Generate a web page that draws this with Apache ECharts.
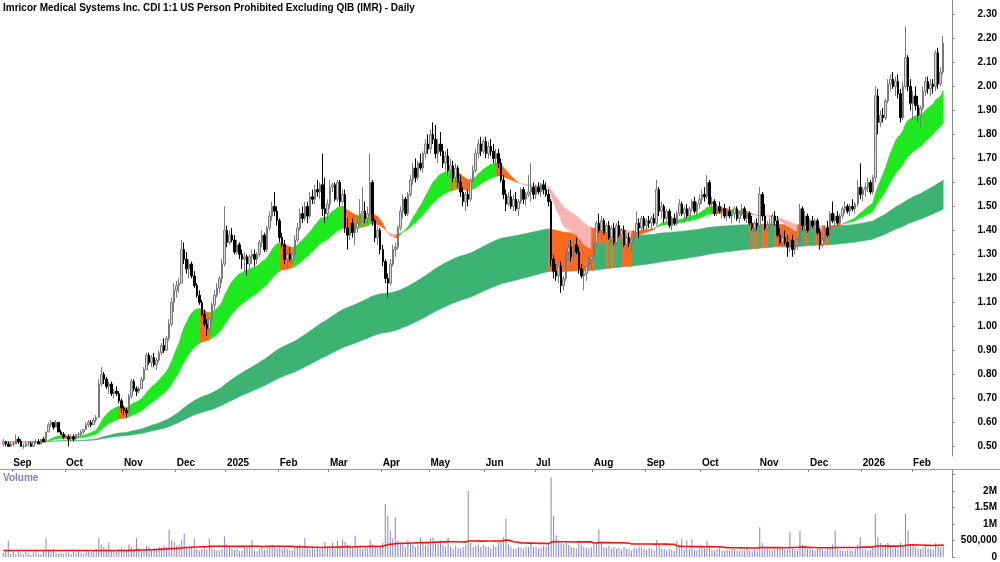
<!DOCTYPE html>
<html><head><meta charset="utf-8">
<script src="https://cdn.jsdelivr.net/npm/echarts@6/dist/echarts.min.js"></script>
<style>html,body{margin:0;padding:0;background:#fff}#c{width:1000px;height:562px}</style>
</head><body><div id="c"></div><script>
// Month labels shown at the first trading day of each month ('' = no label)
const monthLabels = ['', 'Sep','Oct','Nov','Dec','2025','Feb','Mar','Apr','May','Jun','Jul','Aug','Sep','Oct','Nov','Dec','2026','Feb'];

// Daily candles [open, high, low, close] in cents
const ohlc_2024_08 = [[51,53,50,52],[52,52,50,51],[51,52,50,50],[50,52,50,51]];
const ohlc_2024_09 = [[51,52,50,51],[51,55,51,53],[53,54,51,52],[52,53,50,50],[50,51,49,50],[50,52,50,51],[51,52,50,51],[51,52,50,50],[50,52,50,52],[52,53,51,52],[52,53,51,51],[51,53,51,53],[53,54,52,52],[52,56,52,56],[56,60,56,59],[59,61,58,60],[60,60,57,58],[58,61,58,60],[60,60,56,56],[56,57,55,55],[55,56,53,54]];
const ohlc_2024_10 = [[54,55,53,54],[54,55,50,53],[53,55,52,54],[54,55,52,53],[53,55,53,55],[55,56,54,55],[55,57,54,56],[56,57,55,57],[57,60,57,59],[59,61,58,60],[60,61,58,59],[59,62,59,61],[61,63,60,62],[62,78,62,76],[76,83,75,80],[80,81,76,78],[78,79,74,75],[75,77,72,76],[76,77,71,72],[72,74,70,73],[73,75,71,72],[72,73,68,69],[69,70,64,66]];
const ohlc_2024_11 = [[66,67,63,65],[65,66,62,64],[64,72,64,71],[71,78,70,77],[77,78,73,74],[74,75,71,73],[73,75,72,74],[74,79,74,78],[78,83,77,82],[82,89,82,88],[88,89,84,85],[85,88,83,87],[87,89,83,84],[84,87,82,86],[86,90,85,89],[89,93,88,92],[92,95,89,90],[90,96,90,95],[95,103,94,101],[101,112,100,110],[110,118,106,115]];
const ohlc_2024_12 = [[115,119,112,117],[117,120,114,118],[118,136,118,132],[132,135,126,128],[128,131,122,124],[124,128,120,126],[126,127,120,121],[121,123,116,117],[117,118,112,113],[113,115,109,110],[110,111,104,105],[105,107,100,101],[101,103,96,99],[99,104,97,103],[103,110,102,109],[109,115,107,113],[113,118,112,116],[116,121,114,120],[120,128,118,126],[126,150,125,140]];
const ohlc_2025_01 = [[140,142,133,135],[135,140,134,138],[138,141,135,136],[136,138,130,131],[131,136,130,134],[134,135,128,130],[130,132,124,128],[128,131,123,129],[129,130,121,126],[126,130,124,129],[129,132,126,130],[130,132,125,128],[128,131,126,130],[130,136,129,135],[135,140,133,138],[138,139,131,132],[132,142,131,141],[141,148,140,146],[146,152,144,150],[150,156,146,148],[148,150,142,144]];
const ohlc_2025_02 = [[144,145,135,137],[137,139,133,134],[134,136,126,128],[128,132,124,130],[130,133,127,128],[128,131,126,130],[130,138,129,136],[136,143,135,141],[141,149,140,147],[147,150,143,145],[145,152,144,150],[150,152,143,146],[146,156,145,154],[154,157,151,153],[153,159,151,157],[157,161,154,156],[156,160,153,159],[159,172,146,149],[149,162,143,147],[147,153,144,151]];
const ohlc_2025_03 = [[151,161,149,158],[158,160,156,159],[159,160,152,153],[153,161,152,160],[160,161,150,152],[152,157,151,155],[155,157,139,141],[141,145,132,138],[138,144,136,143],[143,145,137,139],[139,142,134,141],[141,146,139,143],[143,153,142,147],[147,158,146,148],[148,152,143,145],[145,150,143,147],[147,172,146,160],[160,161,142,144],[144,145,135,137],[137,142,134,140],[140,141,130,132]];
const ohlc_2025_04 = [[132,134,125,127],[127,128,118,120],[120,122,112,118],[118,128,117,126],[126,134,125,132],[132,135,129,133],[133,142,132,141],[141,150,140,148],[148,155,145,153],[153,154,146,147],[147,156,146,155],[155,163,154,161],[161,168,159,166],[166,170,160,162],[162,169,161,168],[168,172,165,166],[166,173,164,172],[172,178,170,176],[176,180,172,174]];
const ohlc_2025_05 = [[174,182,172,180],[180,185,176,178],[178,184,170,172],[172,178,168,176],[176,181,171,173],[173,176,166,168],[168,173,165,171],[171,174,163,165],[165,170,162,167],[167,169,160,162],[162,168,160,166],[166,167,158,160],[160,163,154,156],[156,158,150,152],[152,156,148,155],[155,157,150,153],[153,162,152,161],[161,167,160,165],[165,174,164,172],[172,178,170,176],[176,179,171,173],[173,178,172,177]];
const ohlc_2025_06 = [[177,179,170,172],[172,177,170,175],[175,178,171,173],[173,176,168,170],[170,174,167,172],[172,174,166,168],[168,170,160,161],[161,163,153,155],[155,157,148,151],[151,156,150,154],[154,157,149,150],[150,155,148,153],[153,156,148,149],[149,153,146,152],[152,158,151,157],[157,158,151,153],[153,156,150,155],[155,163,154,156],[156,168,152,158],[158,160,153,155]];
const ohlc_2025_07 = [[155,159,153,158],[158,160,155,156],[156,160,154,159],[159,161,155,157],[157,160,154,155],[155,157,150,152],[152,153,125,128],[128,130,120,123],[123,126,119,121],[121,126,118,125],[125,127,114,117],[117,121,115,120],[120,132,119,131],[131,136,128,133],[133,136,127,129],[129,135,128,134],[134,137,130,131],[131,133,122,124],[124,126,120,121],[121,124,115,122],[122,126,119,125],[125,129,123,128],[128,130,124,129]];
const ohlc_2025_08 = [[129,136,128,135],[135,144,133,143],[143,147,139,140],[140,146,138,144],[144,145,138,139],[139,143,137,142],[142,144,136,137],[137,142,135,141],[141,143,134,135],[135,143,134,142],[142,144,137,138],[138,141,134,140],[140,142,133,134],[134,138,132,137],[137,139,133,135],[135,138,131,136],[136,140,134,139],[139,148,138,143],[143,145,137,141],[141,146,140,145],[145,146,140,142]];
const ohlc_2025_09 = [[142,145,140,144],[144,146,141,143],[143,146,140,145],[145,147,142,143],[143,161,142,157],[157,158,146,148],[148,152,145,150],[150,151,143,145],[145,149,144,148],[148,149,141,142],[142,146,140,145],[145,147,142,143],[143,148,142,147],[147,153,146,151],[151,152,146,147],[147,150,143,149],[149,151,145,146],[146,150,144,149],[149,153,148,152],[152,154,147,148],[148,152,146,151],[151,155,149,153]];
const ohlc_2025_10 = [[153,157,151,155],[155,158,152,154],[154,163,153,160],[160,161,150,151],[151,154,148,152],[152,153,146,147],[147,151,146,150],[150,152,147,148],[148,150,145,149],[149,151,145,146],[146,149,144,148],[148,150,145,146],[146,148,143,147],[147,150,145,149],[149,150,144,145],[145,148,143,147],[147,151,146,149],[149,150,144,145],[145,148,143,147],[147,148,142,143],[143,146,140,141],[141,144,139,143],[143,145,140,142]];
const ohlc_2025_11 = [[142,158,141,155],[155,156,144,146],[146,151,140,141],[141,144,139,142],[142,145,140,143],[143,147,142,146],[146,148,142,144],[144,146,137,138],[138,141,134,135],[135,139,133,137],[137,140,134,135],[135,138,129,133],[133,137,131,136],[136,138,129,132],[132,136,130,134],[134,137,132,135],[135,151,134,149],[149,150,140,142],[142,148,140,146],[146,147,139,140]];
const ohlc_2025_12 = [[140,145,139,144],[144,146,141,142],[142,145,141,144],[144,145,138,139],[139,141,132,134],[134,137,133,136],[136,142,135,141],[141,144,137,138],[138,148,137,147],[147,152,143,144],[144,147,141,146],[146,148,142,143],[143,147,142,146],[146,150,145,149],[149,152,147,150],[150,151,147,148],[148,151,146,150],[150,153,148,149],[149,152,147,151],[151,161,150,158],[158,168,153,155]];
const ohlc_2026_01 = [[155,158,152,157],[157,160,154,158],[158,162,156,160],[160,161,155,156],[156,163,155,162],[162,200,160,196],[196,199,180,185],[185,190,183,188],[188,191,185,187],[187,195,186,194],[194,203,193,201],[201,205,198,203],[203,206,199,200],[200,204,196,202],[202,205,195,197],[197,199,185,187],[187,202,186,200],[200,225,199,212],[212,213,198,200],[200,203,190,193]];
const ohlc_2026_02 = [[193,198,186,196],[196,200,190,192],[192,196,185,188],[188,192,183,191],[191,200,190,198],[198,204,196,202],[202,204,197,199],[199,203,196,201],[201,203,197,200],[200,215,198,214],[214,216,199,201],[201,208,200,206],[206,221,205,218]];

// Daily volume in thousands of shares
const vol_2024_08 = [120,180,500,90];
const vol_2024_09 = [150,90,200,130,80,160,110,70,140,180,100,90,210,560,230,180,250,130,90,120,100];
const vol_2024_10 = [140,120,90,160,110,180,130,100,220,170,150,190,240,580,380,300,260,440,210,180,160,240,280];
const vol_2024_11 = [250,200,380,300,240,570,260,180,220,340,310,200,260,220,300,280,350,300,820,520,460];
const vol_2024_12 = [330,380,520,700,300,260,280,560,250,200,240,300,220,550,260,230,200,180,240,620];
const vol_2025_01 = [380,300,260,220,240,180,200,300,320,280,520,200,180,260,300,220,280,320,360,300,260];
const vol_2025_02 = [280,240,320,260,220,200,300,340,380,260,580,300,240,320,260,280,240,260,450,320];
const vol_2025_03 = [300,420,260,480,300,520,450,360,300,280,640,300,260,240,300,280,520,380,300,260,340];
const vol_2025_04 = [420,1600,1250,800,560,1200,500,420,380,300,520,440,380,300,360,600,420,340,480];
const vol_2025_05 = [560,600,420,380,500,360,320,580,300,260,340,280,260,300,360,2000,420,300,340,380,300,360];
const vol_2025_06 = [320,300,260,380,300,440,520,600,1150,380,300,260,240,300,280,260,320,300,440,300];
const vol_2025_07 = [300,260,280,340,300,400,2400,1250,650,500,420,380,450,360,300,280,260,420,360,300,280,260,300];
const vol_2025_08 = [380,420,830,460,300,280,340,260,300,240,280,220,300,260,240,200,280,260,320,300,240];
const vol_2025_09 = [220,280,240,200,520,360,260,240,200,260,220,180,480,300,560,220,500,260,540,220,200,260];
const vol_2025_10 = [300,260,480,300,220,200,240,260,200,180,220,200,260,240,200,180,220,200,240,200,180,220,200];
const vol_2025_11 = [900,420,300,260,220,200,240,260,300,280,240,220,750,260,240,200,800,360,280,240];
const vol_2025_12 = [260,220,200,240,280,220,200,240,300,380,800,260,220,200,180,220,200,180,240,380,600];
const vol_2026_01 = [260,240,200,220,300,1300,600,420,360,380,420,300,260,280,240,420,300,1300,800,380];
const vol_2026_02 = [360,300,260,240,280,320,260,240,220,420,380,300,400];

const ohlcMonths = [ohlc_2024_08,ohlc_2024_09,ohlc_2024_10,ohlc_2024_11,ohlc_2024_12,ohlc_2025_01,ohlc_2025_02,ohlc_2025_03,ohlc_2025_04,ohlc_2025_05,ohlc_2025_06,ohlc_2025_07,ohlc_2025_08,ohlc_2025_09,ohlc_2025_10,ohlc_2025_11,ohlc_2025_12,ohlc_2026_01,ohlc_2026_02];
const volMonths = [vol_2024_08,vol_2024_09,vol_2024_10,vol_2024_11,vol_2024_12,vol_2025_01,vol_2025_02,vol_2025_03,vol_2025_04,vol_2025_05,vol_2025_06,vol_2025_07,vol_2025_08,vol_2025_09,vol_2025_10,vol_2025_11,vol_2025_12,vol_2026_01,vol_2026_02];

// Indicator periods
const shortFast = 21, shortSlow = 45, longFast = 150, longSlow = 250, volAvgLen = 50;

// ---------- build ----------
const PAD = 3;
const cats = [], labelAt = {};
let k = 0;
ohlcMonths.forEach((m, mi) => { m.forEach((d, di) => { if (di === 0 && monthLabels[mi]) labelAt[k] = monthLabels[mi]; cats.push(String(k)); k++; }); });
for (let p = 0; p < PAD; p++) { cats.push(String(k)); k++; }
const allOhlc = [].concat(...ohlcMonths);
const allVol = [].concat(...volMonths).map(v => v * 1000);
const candleData = allOhlc.map(d => [d[0] / 100, d[3] / 100, d[2] / 100, d[1] / 100]);
const closes = allOhlc.map(d => d[3] / 100);

function ema(src, n) { const a = 2 / (n + 1); let e = src[0]; return src.map((v, i) => (e = i === 0 ? v : e + a * (v - e))); }
const sF = ema(closes, shortFast), sS = ema(closes, shortSlow), lF = ema(closes, longFast), lS = ema(closes, longSlow);
const firstWin = allVol.slice(0, volAvgLen).reduce((a, b) => a + b, 0) / Math.min(volAvgLen, allVol.length);
const volMA = allVol.map((v, i) => { if (i < volAvgLen - 1) return firstWin; let sum = 0; for (let j = i - volAvgLen + 1; j <= i; j++) sum += allVol[j]; return sum / volAvgLen; });

const shortColors = ['#1ee81e', '#fd6a1f', '#f8b3b3'];
const longColors = ['#3db373', '#fd6a1f'];
const shortState = closes.map((c, i) => sF[i] >= sS[i] ? (c >= sF[i] ? 0 : 1) : (c > sF[i] ? 1 : 2));
const longState = closes.map((c, i) => (c >= Math.max(lF[i], lS[i]) ? 0 : 1));

const sTop = sF.map((v, i) => Math.max(v, sS[i])), sBot = sF.map((v, i) => Math.min(v, sS[i]));
const lTop = lF.map((v, i) => Math.max(v, lS[i])), lBot = lF.map((v, i) => Math.min(v, lS[i]));

// one polygon per run of equal colour state
function runsOf(states) {
  const r = []; let s = 0;
  for (let i = 1; i <= states.length; i++) if (i === states.length || states[i] !== states[s]) { r.push([s, i - 1, states[s]]); s = i; }
  return r;
}
function band(top, bot, states, colors, z) {
  return {
    type: 'custom', xAxisIndex: 0, yAxisIndex: 0, z, silent: true, clip: true, data: runsOf(states),
    encode: { x: [0, 1] },
    renderItem(params, api) {
      const s = api.value(0), e = api.value(1), c = colors[api.value(2)];
      const a = Math.max(s - 1, 0);
      const pts = [];
      for (let j = a; j <= e; j++) pts.push(api.coord([j, top[j]]));
      for (let j = e; j >= a; j--) pts.push(api.coord([j, bot[j]]));
      return { type: 'polygon', shape: { points: pts }, style: { fill: c, stroke: c, lineWidth: 0.5 } };
    }
  };
}

const FONT = '"Liberation Sans", Arial, sans-serif';
const isLabel = (idx) => labelAt[idx] !== undefined;

const chart = echarts.init(document.getElementById('c'), null, { renderer: 'canvas' });
chart.setOption({
  animation: false,
  backgroundColor: '#fff',
  textStyle: { fontFamily: FONT },
  grid: [
    { left: 2, right: 48, top: 0, height: 456 },
    { left: 2, right: 48, top: 471, height: 86 },
    { left: 2, right: 48, top: 455, height: 14 }
  ],
  xAxis: [
    { gridIndex: 0, type: 'category', data: cats, show: false },
    { gridIndex: 1, type: 'category', data: cats, show: false },
    { gridIndex: 2, type: 'category', data: cats, position: 'top',
      axisLine: { show: true, lineStyle: { color: '#9a9a9a', width: 1 } },
      axisTick: { show: true, inside: true, length: 3, interval: isLabel, lineStyle: { color: '#888' } },
      axisLabel: { inside: true, interval: isLabel, formatter: (v, idx) => labelAt[idx] || '', align: 'left', margin: 3,
        fontSize: 10, fontWeight: 'bold', color: '#000', fontFamily: FONT },
      splitLine: { show: false } }
  ],
  yAxis: [
    { gridIndex: 0, type: 'value', position: 'right', min: 0.46, max: 2.36, splitNumber: 19,
      splitLine: { show: false },
      axisLine: { show: true, lineStyle: { color: '#888' } },
      axisTick: { show: true, length: 3, lineStyle: { color: '#888' } },
      axisLabel: { showMinLabel: false, showMaxLabel: false, formatter: v => v.toFixed(2), align: 'right', margin: 45,
        fontSize: 10, fontWeight: 'bold', color: '#000', fontFamily: FONT } },
    { gridIndex: 1, type: 'value', position: 'right', min: 0, max: 2600000, interval: 500000,
      splitLine: { show: false },
      axisLine: { show: true, lineStyle: { color: '#888' } },
      axisTick: { show: true, length: 3, lineStyle: { color: '#888' } },
      axisLabel: { showMaxLabel: false,
        formatter: v => v === 0 ? '0' : (v > 2000000 ? '' : (v >= 1000000 ? (v / 1000000) + 'M' : v.toLocaleString('en-US'))),
        align: 'right', margin: 45, fontSize: 10, fontWeight: 'bold', color: '#000', fontFamily: FONT } },
    { gridIndex: 2, type: 'value', show: false }
  ],
  series: [
    band(lTop, lBot, longState, longColors, 1),
    band(sTop, sBot, shortState, shortColors, 2),
    { type: 'candlestick', xAxisIndex: 0, yAxisIndex: 0, z: 3, data: candleData, barWidth: 2,
      itemStyle: { color: '#d8d8d8', color0: '#000', borderColor: '#7a7a7a', borderColor0: '#000', borderWidth: 1 } },
    { type: 'bar', xAxisIndex: 1, yAxisIndex: 1, data: allVol, barWidth: 1, itemStyle: { color: '#8585cf' } },
    { type: 'line', xAxisIndex: 1, yAxisIndex: 1, data: volMA, showSymbol: false, symbol: 'none', z: 5,
      lineStyle: { color: '#ff1010', width: 1.6 } }
  ],
  graphic: [
    { type: 'text', left: 3, top: 3, style: { text: 'Imricor Medical Systems Inc. CDI 1:1 US Person Prohibited Excluding QIB (IMR) - Daily', fontSize: 10, fontWeight: 'bold', fill: '#000', fontFamily: FONT } },
    { type: 'text', left: 3, top: 473, style: { text: 'Volume', fontSize: 10, fontWeight: 'bold', fill: '#7f7fc4', fontFamily: FONT } },
    { type: 'line', shape: { x1: 0, y1: 469.5, x2: 1000, y2: 469.5 }, style: { stroke: '#9a9a9a', lineWidth: 1 } }
  ]
});
</script></body></html>
